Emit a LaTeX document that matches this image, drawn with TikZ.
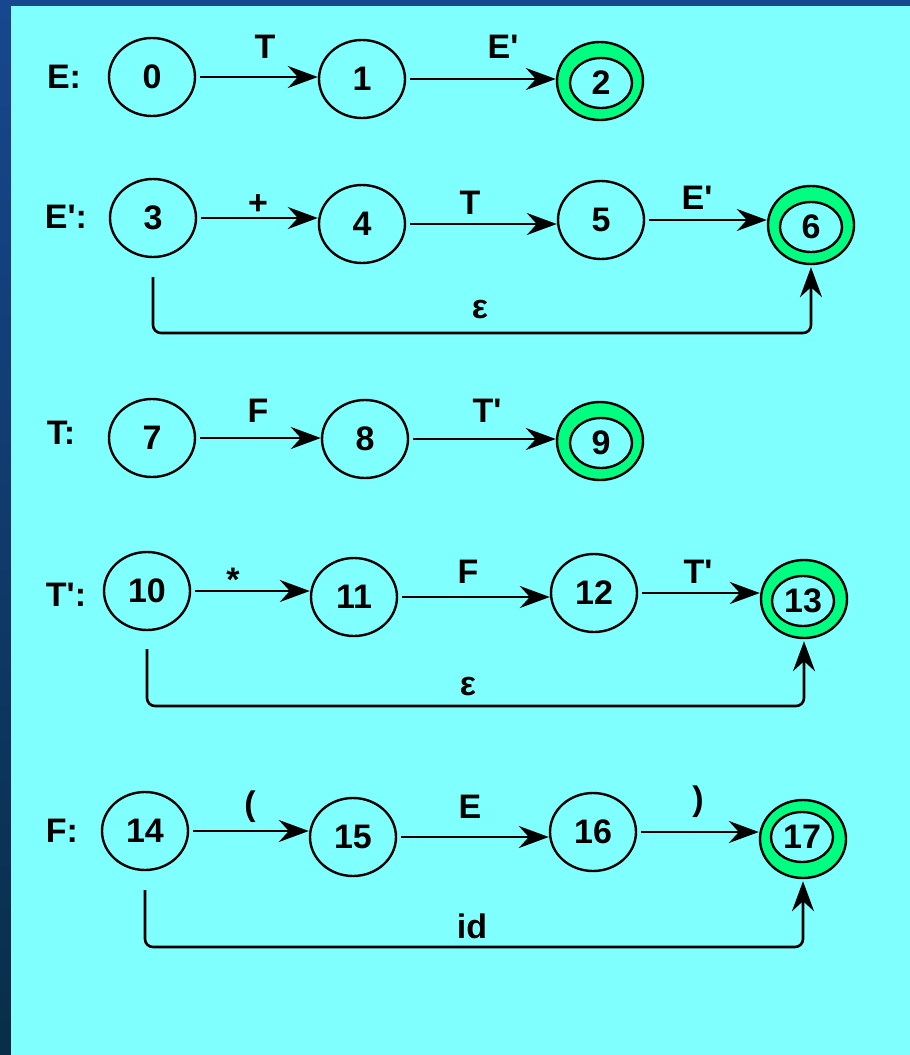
\documentclass[tikz,border=0pt]{standalone}
\usepackage{fontspec}
\setmainfont{Liberation Sans}
\usetikzlibrary{arrows.meta,shapes.geometric}

\definecolor{slide}{HTML}{80FFFF}
\definecolor{accept}{HTML}{00FF80}
\definecolor{frametop}{HTML}{17478F}
\definecolor{framebot}{HTML}{082E48}

\newcommand\statefont{\fontsize{34}{40}\selectfont\bfseries}
\newcommand\prm{\textquotesingle}

\begin{document}
\begin{tikzpicture}[x=1pt,y=-1pt,
  state/.style={ellipse, draw, line width=2.4pt, minimum width=86pt,
    minimum height=78pt, inner sep=0pt, font=\statefont},
  acceptout/.style={state, fill=accept},
  acceptin/.style={ellipse, draw, line width=2.4pt, fill=slide,
    minimum width=62pt, minimum height=50pt, inner sep=0pt, font=\statefont},
  edge/.style={line width=2.6pt,
    -{Stealth[length=30pt,width=22pt,inset=10pt]}, shorten <=4pt},
  bypass/.style={line width=2.6pt, rounded corners=8pt,
    -{Stealth[length=30pt,width=22pt,inset=10pt]}, shorten >=2pt},
  lbl/.style={inner sep=0pt, font=\statefont},
]
% slide frame and canvas
\fill[top color=frametop, bottom color=framebot] (0,0) rectangle (910,1055);
\fill[slide] (11,6) rectangle (910,1055);
\useasboundingbox (0,0) rectangle (910,1055);

% E : 0 -T-> 1 -E'-> 2
\node[lbl] (hE) at (64,77) {E:};
\node[state] (n0) at (152,77) {0};
\node[state] (n1) at (362,79) {1};
\node[acceptout] (n2) at (600,81) {};
\node[acceptin] (n2i) at (601,83) {2};
\draw[edge] (n0.east) -- (n0.east -| n1.west);
\draw[edge] (n1.east) -- (n1.east -| n2.west);
\node[lbl] (l01) at (265,47) {T};
\node[lbl] (l12) at (503,47) {E\prm};

% E' : 3 -+-> 4 -T-> 5 -E'-> 6, 3 -eps-> 6
\node[lbl] (hEp) at (66,217) {E\prm:};
\node[state] (n3) at (153,218) {3};
\node[state] (n4) at (362,224) {4};
\node[state] (n5) at (601,220) {5};
\node[acceptout] (n6) at (811,225) {};
\node[acceptin] (n6i) at (811,227) {6};
\draw[edge] (n3.east) -- (n3.east -| n4.west);
\draw[edge] (n4.east) -- (n4.east -| n5.west);
\draw[edge] (n5.east) -- (n5.east -| n6.west);
\node[lbl] (l34) at (258,205) {+};
\node[lbl] (l45) at (470,203) {T};
\node[lbl] (l56) at (697,198) {E\prm};
\coordinate (b36) at (480,333);
\draw[bypass] ([yshift=-19pt]n3.south) |- (b36) -| (n6.south);
\node[lbl] (l36) at (480,310) {ε};

% T : 7 -F-> 8 -T'-> 9
\node[lbl] (hT) at (61,433) {T:};
\node[state] (n7) at (152,438) {7};
\node[state] (n8) at (365,439) {8};
\node[acceptout] (n9) at (600,441) {};
\node[acceptin] (n9i) at (601,443) {9};
\draw[edge] (n7.east) -- (n7.east -| n8.west);
\draw[edge] (n8.east) -- (n8.east -| n9.west);
\node[lbl] (l78) at (258,411) {F};
\node[lbl] (l89) at (487,411) {T\prm};

% T' : 10 -*-> 11 -F-> 12 -T'-> 13, 10 -eps-> 13
\node[lbl] (hTp) at (66,595) {T\prm:};
\node[state] (n10) at (147,591) {10};
\node[state] (n11) at (354,597) {11};
\node[state] (n12) at (594,593) {12};
\node[acceptout] (n13) at (804,599) {};
\node[acceptin] (n13i) at (803,601) {13};
\draw[edge] (n10.east) -- (n10.east -| n11.west);
\draw[edge] (n11.east) -- (n11.east -| n12.west);
\draw[edge] (n12.east) -- (n12.east -| n13.west);
\node[lbl] (l1011) at (233,580) {*};
\node[lbl] (l1112) at (468,572) {F};
\node[lbl] (l1213) at (698,572) {T\prm};
\coordinate (b1013) at (468,706);
\draw[bypass] ([yshift=-18pt]n10.south) |- (b1013) -| (n13.south);
\node[lbl] (l1013) at (468,687) {ε};

% F : 14 -(-> 15 -E-> 16 -)-> 17, 14 -id-> 17
\node[lbl] (hF) at (62,831) {F:};
\node[state] (n14) at (145,831) {14};
\node[state] (n15) at (353,837) {15};
\node[state] (n16) at (593,832) {16};
\node[acceptout] (n17) at (803,839) {};
\node[acceptin] (n17i) at (802,837) {17};
\draw[edge] (n14.east) -- (n14.east -| n15.west);
\draw[edge] (n15.east) -- (n15.east -| n16.west);
\draw[edge] (n16.east) -- (n16.east -| n17.west);
\node[lbl] (l1415) at (250,807) {(};
\node[lbl] (l1516) at (470,807) {E};
\node[lbl] (l1617) at (698,802) {)};
\coordinate (b1417) at (472,947);
\draw[bypass] ([yshift=-19pt]n14.south) |- (b1417) -| (n17.south);
\node[lbl] (l1417) at (472,926) {id};
\end{tikzpicture}
\end{document}
